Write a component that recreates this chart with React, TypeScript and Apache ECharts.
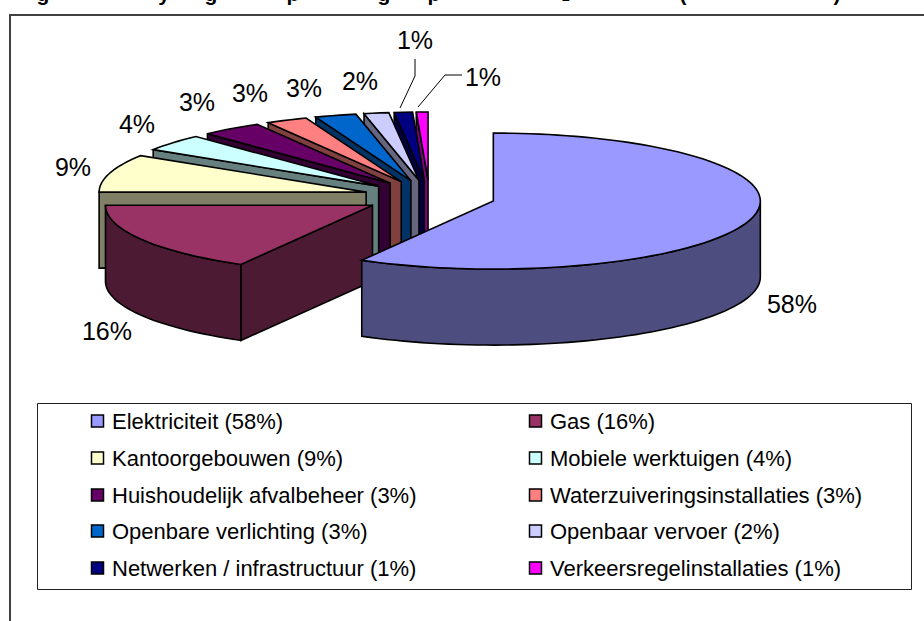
import React, { useEffect, useRef } from "react";
import * as echarts from "echarts";

// Category names, as printed in the legend.
const categories = [
  "Elektriciteit", "Gas", "Kantoorgebouwen", "Mobiele werktuigen", "Huishoudelijk afvalbeheer",
  "Waterzuiveringsinstallaties", "Openbare verlichting", "Openbaar vervoer",
  "Netwerken / infrastructuur", "Verkeersregelinstallaties",
];
const shares = [58.2, 16.8, 9.0, 4.0, 3.7, 2.5, 2.5, 1.5, 1.1, 0.7];
// Percentages as printed.
const printed = [58, 16, 9, 4, 3, 3, 3, 2, 1, 1];
const topColors = ["#9999FF", "#993366", "#FFFFCC", "#CCFFFF", "#660066", "#FF8080", "#0066CC", "#CCCCFF", "#000080", "#FF00FF"];
const wallColors = ["#4D4D80", "#4D1A33", "#808066", "#668080", "#330033", "#804040", "#003366", "#666680", "#000040", "#800080"];

// Layout of the printed percentages (centres).
const labelCentres = [[792, 304], [107, 331], [73, 167], [137, 124], [197, 102], [250, 93], [304, 88], [360, 81], [415, 40], [483, 77]];
const leaderLines = [
  [[415, 59], [415, 76], [400, 108]],
  [[462, 75], [445, 75], [418, 107]],
];
// Only the lower edge of the heading survives in the picture: these are the glyphs whose descenders can be seen.
const headingGlyphs: [string, number, number, number][] = [
  ["g", 43, 4, 21], ["y", 164, 4, 21], ["g", 211, 4, 21], ["p", 293, 4, 21], ["g", 384, 4, 21],
  ["p", 434, 4, 21], ["2", 566, 3, 14], ["(", 683, 4, 21], [")", 837, 4, 21],
];

const CX = 429.5, CY = 196.8, RX = 267, RY = 68, DEPTH = 76, EXPLODE = 66;
const FONT = '"Liberation Sans", Arial, sans-serif';

function renderSlice(_params: any, api: any) {
  const i = api.value(0);
  const a0 = api.value(1) * 3.6;
  const a1 = api.value(2) * 3.6;
  const rad = (d: number) => (d * Math.PI) / 180;
  const mid = rad((a0 + a1) / 2);
  const k = RY / RX;
  const ax = CX + EXPLODE * Math.sin(mid);
  const ay = CY - EXPLODE * Math.cos(mid) * k;
  const pt = (d: number, dz = 0) => [ax + RX * Math.sin(rad(d)), ay - RY * Math.cos(rad(d)) + dz];
  const arc = (from: number, to: number, dz = 0) => {
    const n = Math.max(2, Math.ceil(Math.abs(to - from) / 2));
    const out: number[][] = [];
    for (let j = 0; j <= n; j++) out.push(pt(from + ((to - from) * j) / n, dz));
    return out;
  };
  const edge = { stroke: "#000", lineWidth: 1.6, lineJoin: "miter" };
  const children: any[] = [];
  if (a0 > 180) {
    children.push({
      type: "polygon",
      shape: { points: [[ax, ay], pt(a0), pt(a0, DEPTH), [ax, ay + DEPTH]] },
      style: { fill: wallColors[i], ...edge },
    });
  }
  const w0 = Math.max(a0, 90), w1 = Math.min(a1, 270);
  if (w1 > w0) {
    children.push({
      type: "polygon",
      shape: { points: [...arc(w0, w1), ...arc(w1, w0, DEPTH)] },
      style: { fill: wallColors[i], ...edge },
    });
  }
  children.push({
    type: "polygon",
    shape: { points: [[ax, ay], ...arc(a0, a1)] },
    style: { fill: topColors[i], ...edge },
  });
  return { type: "group", children };
}

export default function App() {
  const ref = useRef<HTMLDivElement>(null);
  useEffect(() => {
    const chart = echarts.init(ref.current!, null, { renderer: "svg" });
    let running = 0;
    const rows = shares.map((v, i) => {
      const row = [i, running, running + v];
      running += v;
      return row;
    });
    const graphic: any[] = [
      { type: "rect", z: 1, shape: { x: 10, y: 15, width: 930, height: 630 }, style: { fill: "#fff", stroke: "#404040", lineWidth: 2 } },
      { type: "rect", z: 1, shape: { x: 37.5, y: 403.5, width: 874, height: 186 }, style: { fill: "#fff", stroke: "#222", lineWidth: 1 } },
    ];
    headingGlyphs.forEach(([t, x, y, size]) =>
      graphic.push({ type: "text", z: 5, style: { text: t, x, y, textAlign: "center", textVerticalAlign: "bottom", font: `bold ${size}px ${FONT}`, fill: "#000" } }));
    printed.forEach((p, i) => {
      const [x, y] = labelCentres[i];
      graphic.push({ type: "text", z: 5, style: { text: `${p}%`, x, y, textAlign: "center", textVerticalAlign: "middle", font: `25px ${FONT}`, fill: "#000" } });
    });
    leaderLines.forEach((points) =>
      graphic.push({ type: "polyline", z: 5, shape: { points }, style: { fill: "none", stroke: "#000", lineWidth: 1 } }));
    const rowY = [421, 458, 495, 531, 568];
    categories.forEach((name, i) => {
      const col = i % 2, y = rowY[Math.floor(i / 2)];
      const mx = col ? 529.5 : 91.5, tx = col ? 550 : 112;
      graphic.push({ type: "rect", z: 5, shape: { x: mx, y: y - 6, width: 12, height: 12 }, style: { fill: topColors[i], stroke: "#000", lineWidth: 1.5 } });
      graphic.push({ type: "text", z: 5, style: { text: `${name} (${printed[i]}%)`, x: tx, y, textVerticalAlign: "middle", font: `22px ${FONT}`, fill: "#000" } });
    });
    chart.setOption({
      animation: false,
      backgroundColor: "#fff",
      graphic,
      series: [{
        type: "custom",
        coordinateSystem: "none",
        silent: true,
        z: 3,
        clip: false,
        renderItem: renderSlice,
        data: rows.slice().reverse(),
      }],
    });
    return () => chart.dispose();
  }, []);
  return <div ref={ref} style={{ position: "absolute", left: 0, top: 0, width: 924, height: 621 }} />;
}
